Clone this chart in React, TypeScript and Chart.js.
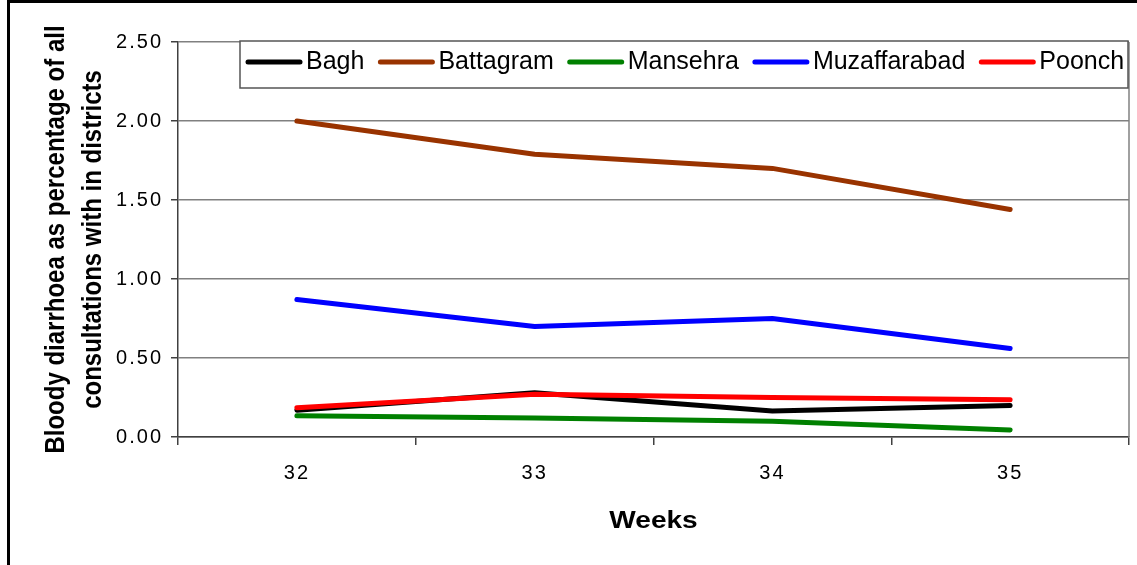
import React, { useEffect, useRef } from 'react';
import { Chart, registerables } from 'chart.js';

Chart.register(...registerables);

const weeks = ['32', '33', '34', '35'];
const bagh = [0.17, 0.28, 0.165, 0.2];
const battagram = [2.0, 1.79, 1.7, 1.44];
const mansehra = [0.135, 0.12, 0.1, 0.045];
const muzaffarabad = [0.87, 0.7, 0.75, 0.56];
const poonch = [0.185, 0.27, 0.25, 0.235];
const seriesNames = ['Bagh', 'Battagram', 'Mansehra', 'Muzaffarabad', 'Poonch'];
const seriesValues = [bagh, battagram, mansehra, muzaffarabad, poonch];
const seriesColors = ['#000000', '#993300', '#008000', '#0000FF', '#FF0000'];
const yMin = 0;
const yMax = 2.5;
const yStep = 0.5;
const yTitleLines = ['Bloody diarrhoea as percentage of all', 'consultations with in districts'];
const xTitle = 'Weeks';

const FONT = '"Liberation Sans", Arial, sans-serif';

const decorPlugin = {
  id: 'decor',
  beforeDraw(chart: any) {
    (chart.ctx as any).letterSpacing = '2px';
  },
  afterDraw(chart: any) {
    const ctx = chart.ctx as CanvasRenderingContext2D;
    (ctx as any).letterSpacing = '0px';
    const a = chart.chartArea;
    ctx.save();

    // right border of plot area
    ctx.strokeStyle = '#808080';
    ctx.lineWidth = 1.5;
    ctx.beginPath();
    ctx.moveTo(a.right, a.top);
    ctx.lineTo(a.right, a.bottom);
    ctx.stroke();

    // legend box
    const lx = a.left + 62;
    const ly = a.top - 1;
    const lr = a.right - 1;
    const lb = a.top + 46;
    ctx.fillStyle = '#ffffff';
    ctx.fillRect(lx, ly, lr - lx, lb - ly);
    ctx.strokeStyle = '#555555';
    ctx.lineWidth = 1.5;
    ctx.strokeRect(lx, ly, lr - lx, lb - ly);

    ctx.font = `25px ${FONT}`;
    ctx.textBaseline = 'middle';
    ctx.textAlign = 'left';
    let x = lx + 6;
    const cy = ly + 21;
    seriesNames.forEach((name, i) => {
      ctx.strokeStyle = seriesColors[i];
      ctx.lineWidth = 5;
      ctx.lineCap = 'round';
      ctx.beginPath();
      ctx.moveTo(x + 2, cy);
      ctx.lineTo(x + 54, cy);
      ctx.stroke();
      ctx.fillStyle = '#000000';
      ctx.fillText(name, x + 60, cy);
      x += 60 + ctx.measureText(name).width + 14;
    });

    // y title
    ctx.fillStyle = '#000000';
    ctx.font = `bold 24px ${FONT}`;
    ctx.textAlign = 'center';
    ctx.textBaseline = 'alphabetic';
    const midY = (a.top + a.bottom) / 2;
    const baselines = [64, 101];
    yTitleLines.forEach((t, i) => {
      ctx.save();
      ctx.translate(baselines[i], midY);
      ctx.scale(1.15, 1);
      ctx.rotate(-Math.PI / 2);
      ctx.fillText(t, 0, 0);
      ctx.restore();
    });

    // x title
    ctx.save();
    ctx.font = `bold 23px ${FONT}`;
    ctx.translate((a.left + a.right) / 2, 528);
    ctx.scale(1.22, 1);
    ctx.textAlign = 'center';
    ctx.fillText(xTitle, 0, 0);
    ctx.restore();

    // outer frame
    ctx.strokeStyle = '#000000';
    ctx.lineWidth = 3;
    ctx.lineCap = 'butt';
    ctx.beginPath();
    ctx.moveTo(8.5, 565);
    ctx.lineTo(8.5, 1.5);
    ctx.lineTo(1137, 1.5);
    ctx.stroke();

    ctx.restore();
  },
};

export default function App() {
  const ref = useRef<HTMLCanvasElement | null>(null);

  useEffect(() => {
    if (!ref.current) return;
    const chart = new Chart(ref.current, {
      type: 'line',
      data: {
        labels: weeks,
        datasets: seriesNames.map((name, i) => ({
          label: name,
          data: seriesValues[i],
          borderColor: seriesColors[i],
          backgroundColor: seriesColors[i],
          borderWidth: 5,
          borderCapStyle: 'round' as const,
          borderJoinStyle: 'round' as const,
          pointRadius: 0,
          tension: 0,
          order: -i,
        })),
      },
      options: {
        responsive: false,
        animation: false,
        layout: { padding: { top: 42, right: 8, left: 0, bottom: 0 } },
        plugins: {
          legend: { display: false },
          tooltip: { enabled: false },
          title: { display: false },
        },
        scales: {
          x: {
            offset: true,
            grid: {
              offset: true,
              drawOnChartArea: false,
              drawTicks: true,
              tickLength: 8,
              tickColor: '#404040',
              lineWidth: 1.5,
            },
            border: { display: true, color: '#404040', width: 1.5 },
            ticks: {
              font: { family: FONT, size: 20 },
              color: '#000000',
              padding: 16,
              maxRotation: 0,
            },
            afterFit: (scale: any) => {
              scale.height = 128;
            },
          },
          y: {
            min: yMin,
            max: yMax,
            ticks: {
              stepSize: yStep,
              font: { family: FONT, size: 20 },
              color: '#000000',
              padding: 8,
              callback: (v: any) => Number(v).toFixed(2),
            },
            grid: {
              color: '#808080',
              lineWidth: 1.5,
              tickLength: 7,
              tickColor: '#404040',
            },
            border: { display: true, color: '#404040', width: 1.5 },
            afterFit: (scale: any) => {
              scale.width = 178;
            },
          },
        },
      },
      plugins: [decorPlugin],
    });
    return () => chart.destroy();
  }, []);

  return (
    <div style={{ position: 'absolute', left: 0, top: 0, width: 1137, height: 565, background: '#fff' }}>
      <canvas ref={ref} width={1137} height={565} style={{ display: 'block' }} />
    </div>
  );
}
